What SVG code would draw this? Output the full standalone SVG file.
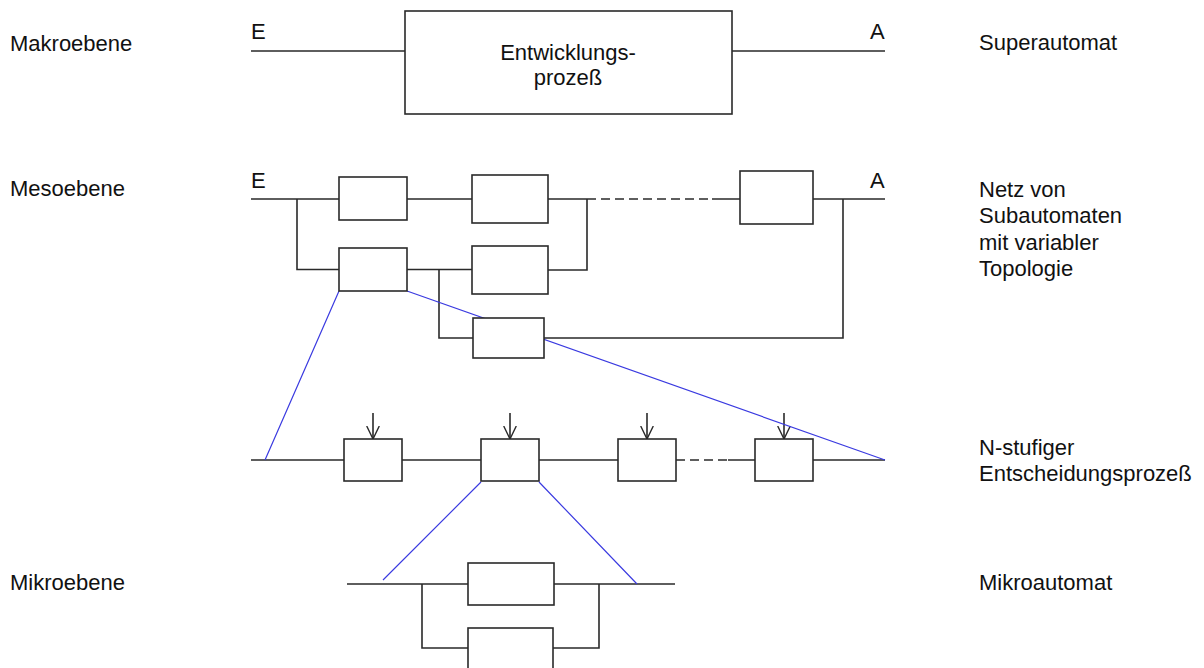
<svg xmlns="http://www.w3.org/2000/svg" width="1204" height="668" viewBox="0 0 1204 668">
<style>
.bg{fill:#fff}
.box{fill:#fff;stroke:#2a2a2a;stroke-width:1.6}
.ln{fill:none;stroke:#2a2a2a;stroke-width:1.6}
.dash{fill:none;stroke:#2a2a2a;stroke-width:1.6;stroke-dasharray:9 5}
.blue{fill:none;stroke:#3a3ae0;stroke-width:1.2}
text{font-family:"Liberation Sans",Arial,sans-serif;font-size:22px;fill:#111}
.mid{text-anchor:middle}
</style>
<defs>
<marker id="arr" viewBox="0 0 14 14" refX="13" refY="7" markerWidth="14" markerHeight="14" markerUnits="userSpaceOnUse" orient="auto">
<path d="M0,0.7 L13,7 L0,13.3" fill="none" stroke="#2a2a2a" stroke-width="1.4"/>
</marker>
</defs>
<rect class="bg" x="0" y="0" width="1204" height="668"/>

<g id="labels">
<text x="10" y="51">Makroebene</text>
<text x="10" y="196">Mesoebene</text>
<text x="10" y="590">Mikroebene</text>
<text x="979" y="50">Superautomat</text>
<text x="979" y="197">Netz von</text>
<text x="979" y="223">Subautomaten</text>
<text x="979" y="250">mit variabler</text>
<text x="979" y="276">Topologie</text>
<text x="979" y="455">N-stufiger</text>
<text x="979" y="481">Entscheidungsprozeß</text>
<text x="979" y="590">Mikroautomat</text>
<text x="251" y="39">E</text>
<text x="870" y="39">A</text>
<text x="251" y="188">E</text>
<text x="870" y="188">A</text>
</g>

<g id="connectors">
<!-- macro -->
<path class="ln" d="M251,51 H405 M732,51 H885"/>
<!-- meso -->
<path class="ln" d="M251,199 H339 M407,199 H472 M548,199 H587 M712,199 H740 M813,199 H885"/>
<path class="dash" d="M587,199 H712"/>
<path class="ln" d="M297,199 V269.5 H339 M407,269.5 H472 M548,270 H587 V199"/>
<path class="ln" d="M439,269.5 V338 H473 M544,338 H843 V199"/>
<!-- N-stage -->
<path class="ln" d="M251,460 H344 M402,460 H481 M539,460 H618 M728,460 H755 M813,460 H885"/>
<path class="dash" d="M676,460 H728"/>
<path class="ln" marker-end="url(#arr)" d="M373,413 V439"/>
<path class="ln" marker-end="url(#arr)" d="M510,413 V439"/>
<path class="ln" marker-end="url(#arr)" d="M647,413 V439"/>
<path class="ln" marker-end="url(#arr)" d="M784,413 V439"/>
<!-- micro -->
<path class="ln" d="M347,584 H468 M554,584 H675"/>
<path class="ln" d="M422,584 V648 H468 M553,648 H599 V584"/>
<!-- zoom lines -->
<path class="blue" d="M339,291 L265,460 M407,291 L885,460"/>
<path class="blue" d="M481,482 L383,580 M539,482 L637,584"/>
</g>

<g id="macro-box">
<rect class="box" x="405" y="11" width="327" height="103"/>
<text class="mid" x="568" y="60">Entwicklungs-</text>
<text class="mid" x="568" y="85">prozeß</text>
</g>
<g id="meso-1"><rect class="box" x="339" y="177" width="68" height="43"/></g>
<g id="meso-2"><rect class="box" x="472" y="175" width="76" height="48"/></g>
<g id="meso-3"><rect class="box" x="339" y="248" width="68" height="43"/></g>
<g id="meso-4"><rect class="box" x="472" y="246" width="76" height="48"/></g>
<g id="meso-5"><rect class="box" x="473" y="318" width="71" height="40"/></g>
<g id="meso-6"><rect class="box" x="740" y="171" width="73" height="53"/></g>
<g id="stage-1"><rect class="box" x="344" y="439" width="58" height="42"/></g>
<g id="stage-2"><rect class="box" x="481" y="439" width="58" height="42"/></g>
<g id="stage-3"><rect class="box" x="618" y="439" width="58" height="42"/></g>
<g id="stage-4"><rect class="box" x="755" y="439" width="58" height="42"/></g>
<g id="micro-1"><rect class="box" x="468" y="563" width="86" height="42"/></g>
<g id="micro-2"><rect class="box" x="468" y="628" width="85" height="50"/></g>
</svg>
